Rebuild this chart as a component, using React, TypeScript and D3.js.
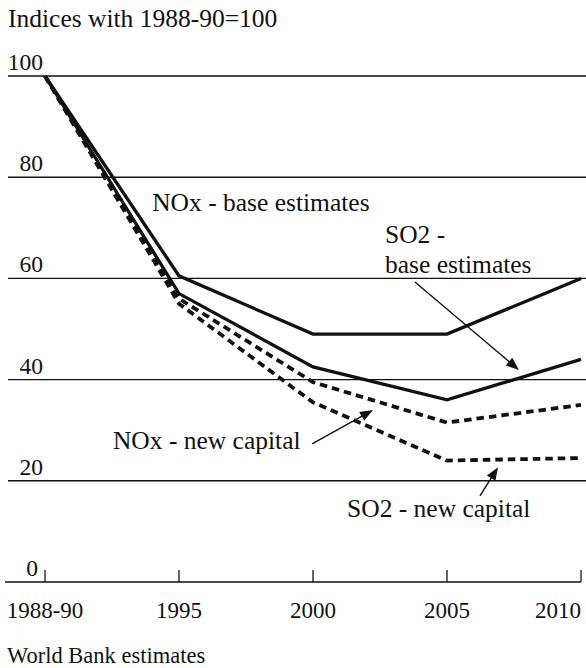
import React from "react";
import * as d3 from "d3";

// ---- data ----
const categories = ["1988-90", "1995", "2000", "2005", "2010"];
const noxBase = [100, 60.5, 49, 49, 60];
const so2Base = [100, 57, 42.5, 36, 44];
const noxNew = [100, 56, 39.5, 31.5, 35];
const so2New = [100, 55, 35.5, 24, 24.5];
const yTicks = [0, 20, 40, 60, 80, 100];

const seriesList = [
  { name: "NOx - base estimates", values: noxBase, dashed: false },
  { name: "SO2 - base estimates", values: so2Base, dashed: false },
  { name: "NOx - new capital", values: noxNew, dashed: true },
  { name: "SO2 - new capital", values: so2New, dashed: true },
];

// annotation positions in (category index, value) units
const labels = [
  { text: "NOx - base estimates", i: 0.8, v: 73.3 },
  { text: "SO2 -", i: 2.537, v: 66.9 },
  { text: "base estimates", i: 2.537, v: 61.1 },
  { text: "NOx - new capital", i: 0.507, v: 26.3 },
  { text: "SO2 - new capital", i: 2.254, v: 12.8 },
];
const arrows = [
  { i0: 2.761, v0: 59.3, i1: 3.537, v1: 41.9 },
  { i0: 1.993, v0: 27.3, i1: 2.448, v1: 34.0 },
  { i0: 3.246, v0: 17.0, i1: 3.381, v1: 22.7 },
];

const W = 586;
const H = 668;
const FONT = '"Liberation Serif", "DejaVu Serif", serif';

export default function App() {
  const x = d3.scalePoint<string>().domain(categories).range([45, 581]);
  const xi = d3.scaleLinear().domain([0, categories.length - 1]).range([45, 581]);
  const y = d3.scaleLinear().domain([0, 100]).range([582, 76]);

  const line = d3
    .line<number>()
    .x((_, i) => x(categories[i]) as number)
    .y((d) => y(d));

  const arrowHead = (x0: number, y0: number, x1: number, y1: number) => {
    const ang = Math.atan2(y1 - y0, x1 - x0);
    const len = 13;
    const half = 5;
    const bx = x1 - len * Math.cos(ang);
    const by = y1 - len * Math.sin(ang);
    const px = -Math.sin(ang) * half;
    const py = Math.cos(ang) * half;
    return `M${x1},${y1}L${bx + px},${by + py}L${bx - px},${by - py}Z`;
  };

  const ts = { fontFamily: FONT };

  return (
    <svg
      width={W}
      height={H}
      style={{ position: "absolute", left: 0, top: 0, background: "#fff", fontFamily: FONT }}
    >
      <rect width={W} height={H} fill="#fff" />
      <text x={8} y={27} fontSize={25.5} fill="#111" style={ts}>
        Indices with 1988-90=100
      </text>

      {/* gridlines */}
      {yTicks
        .filter((t) => t > 0)
        .map((t) => (
          <line key={t} x1={8} x2={586} y1={y(t)} y2={y(t)} stroke="#111" strokeWidth={1.4} />
        ))}
      {/* baseline */}
      <line x1={5} x2={581} y1={y(0)} y2={y(0)} stroke="#111" strokeWidth={1.4} />
      {categories.map((c) => (
        <line key={c} x1={x(c)} x2={x(c)} y1={y(0)} y2={y(0) - 12} stroke="#111" strokeWidth={1.3} />
      ))}

      {/* y tick labels */}
      {yTicks.map((t) => (
        <text
          key={t}
          x={t === 0 ? 38 : 43}
          y={y(t) - 6}
          textAnchor="end"
          fontSize={23.5}
          fill="#111"
          style={ts}
        >
          {t}
        </text>
      ))}

      {/* x tick labels */}
      {categories.map((c, i) => (
        <text
          key={c}
          x={x(c)}
          y={618}
          textAnchor={i === categories.length - 1 ? "end" : "middle"}
          fontSize={23}
          fill="#111"
          style={ts}
        >
          {c}
        </text>
      ))}

      {/* series */}
      {seriesList.map((s) => (
        <path
          key={s.name}
          d={line(s.values) || ""}
          fill="none"
          stroke="#111"
          strokeWidth={s.dashed ? 3.8 : 3.3}
          strokeDasharray={s.dashed ? "7.5,5" : undefined}
          strokeLinejoin="miter"
        />
      ))}

      {/* annotations */}
      {labels.map((l) => (
        <text key={l.text} x={xi(l.i)} y={y(l.v)} fontSize={25.5} fill="#111" style={ts}>
          {l.text}
        </text>
      ))}
      {arrows.map((a, k) => {
        const x0 = xi(a.i0);
        const y0 = y(a.v0);
        const x1 = xi(a.i1);
        const y1 = y(a.v1);
        const ang = Math.atan2(y1 - y0, x1 - x0);
        return (
          <g key={k}>
            <line
              x1={x0}
              y1={y0}
              x2={x1 - 8 * Math.cos(ang)}
              y2={y1 - 8 * Math.sin(ang)}
              stroke="#111"
              strokeWidth={1.4}
            />
            <path d={arrowHead(x0, y0, x1, y1)} fill="#111" />
          </g>
        );
      })}

      <text x={7} y={663} fontSize={22.5} fill="#111" style={ts}>
        World Bank estimates
      </text>
    </svg>
  );
}
